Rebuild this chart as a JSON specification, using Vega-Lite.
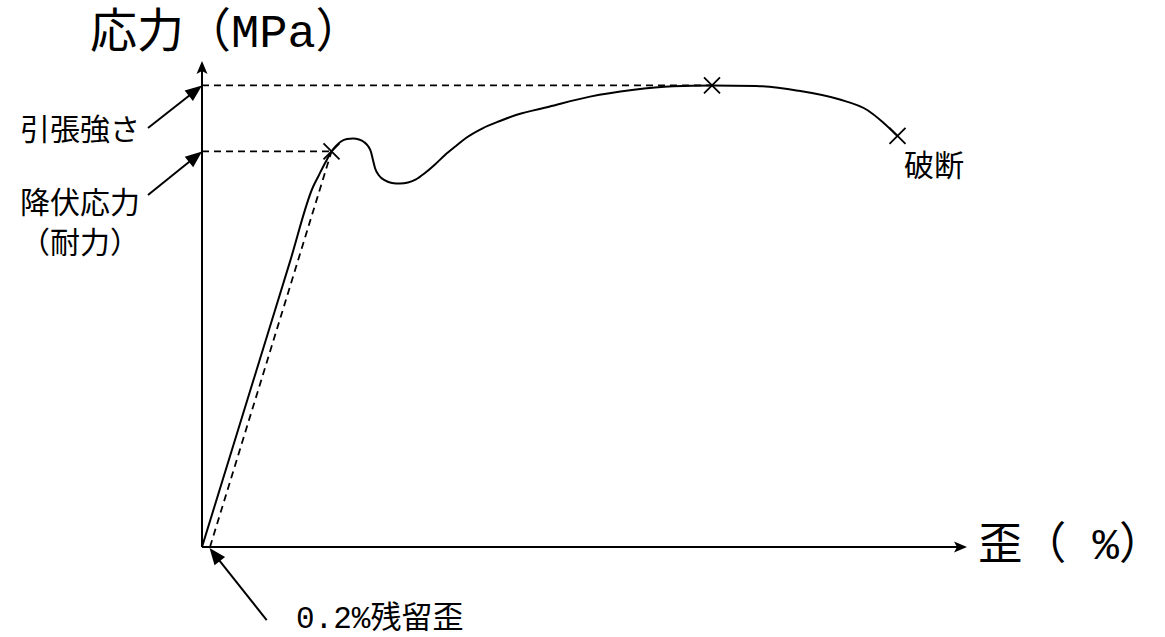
{
  "$schema": "https://vega.github.io/schema/vega-lite/v6.json",
  "width": 1165,
  "height": 637,
  "autosize": {"type": "none"},
  "padding": 0,
  "background": "white",
  "config": {"view": {"stroke": null}},
  "datasets": {
    "curve": [
      {"strain": 0, "stress": 0},
      {"strain": 1.2, "stress": 168.7},
      {"strain": 2.2, "stress": 309.2},
      {"strain": 2.775, "stress": 390.0},
      {"strain": 2.9, "stress": 400.9},
      {"strain": 3.025, "stress": 411.7},
      {"strain": 3.125, "stress": 419.8},
      {"strain": 3.2375, "stress": 428.5},
      {"strain": 3.35, "stress": 434.5},
      {"strain": 3.475, "stress": 439.3},
      {"strain": 3.625, "stress": 442.0},
      {"strain": 3.775, "stress": 442.6},
      {"strain": 3.925, "stress": 441.5},
      {"strain": 4.05, "stress": 438.8},
      {"strain": 4.15, "stress": 434.5},
      {"strain": 4.225, "stress": 428.0},
      {"strain": 4.275, "stress": 419.3},
      {"strain": 4.325, "stress": 410.6},
      {"strain": 4.425, "stress": 402.5},
      {"strain": 4.575, "stress": 397.1},
      {"strain": 4.75, "stress": 394.4},
      {"strain": 4.95, "stress": 393.8},
      {"strain": 5.15, "stress": 394.9},
      {"strain": 5.35, "stress": 398.2},
      {"strain": 5.575, "stress": 405.2},
      {"strain": 5.825, "stress": 414.4},
      {"strain": 6.075, "stress": 424.7},
      {"strain": 6.35, "stress": 434.5},
      {"strain": 6.6, "stress": 443.1},
      {"strain": 7.015, "stress": 453.6},
      {"strain": 7.45, "stress": 461.5},
      {"strain": 7.85, "stress": 468.0},
      {"strain": 8.675, "stress": 477.0},
      {"strain": 9.7, "stress": 487.9},
      {"strain": 10.75, "stress": 495.1},
      {"strain": 11.775, "stress": 499.2},
      {"strain": 12.75, "stress": 500.0},
      {"strain": 13.85, "stress": 499.5},
      {"strain": 14.9, "stress": 494.4},
      {"strain": 15.925, "stress": 485.0},
      {"strain": 16.65, "stress": 472.9},
      {"strain": 17.0, "stress": 461.0},
      {"strain": 17.3875, "stress": 445.3}
    ],
    "dashed": [
      {"strain": 0, "stress": 500, "strain2": 12.75, "stress2": 500},
      {"strain": 0, "stress": 428.5, "strain2": 3.2375, "stress2": 428.5},
      {"strain": 0.2, "stress": 0, "strain2": 3.2375, "stress2": 428.5}
    ],
    "solid": [
      {"strain": 0, "stress": 0, "strain2": 0, "stress2": 519.0},
      {"strain": 0, "stress": 0, "strain2": 18.875, "stress2": 0},
      {"strain": -1.35, "stress": 453.9, "strain2": -0.1575, "stress2": 494.6},
      {"strain": -1.35, "stress": 381.4, "strain2": -0.155, "stress2": 423.1},
      {"strain": 1.6175, "stress": -79.1, "strain2": 0.3125, "stress2": -7.9}
    ],
    "axisheads": [
      {"strain": 0, "stress": 526.5, "angle": 0},
      {"strain": 19.125, "stress": 0, "angle": 90}
    ],
    "pointers": [
      {"strain": 0, "stress": 500, "angle": 52},
      {"strain": 0, "stress": 428.5, "angle": 51},
      {"strain": 0.1875, "stress": -1.08, "angle": 322}
    ],
    "crosses": [
      {"strain": 3.2375, "stress": 428.5},
      {"strain": 12.75, "stress": 500},
      {"strain": 17.3875, "stress": 445.3}
    ],
    "ytitle": [
      {"strain": -2.8, "stress": 541.2, "label": "応力（MPa）"}
    ],
    "xtitle": [
      {"strain": 24.025, "stress": -13.0, "label": "歪（ %）"}
    ],
    "leftlabels": [
      {"strain": -3.05, "stress": 441.0, "label": "引張強さ"},
      {"strain": -3.05, "stress": 361.9, "label": "降伏応力"},
      {"strain": -3.05, "stress": 318.5, "label": "（耐力）"}
    ],
    "rightlabels": [
      {"strain": 17.55, "stress": 402.0, "label": "破断"}
    ],
    "bottomlabels": [
      {"strain": 2.35, "stress": -87.7, "label": "0.2%残留歪"}
    ]
  },
  "encoding": {
    "x": {"field": "strain", "type": "quantitative", "scale": {"domain": [-5.05, 24.075], "nice": false, "zero": false}, "axis": null},
    "y": {"field": "stress", "type": "quantitative", "scale": {"domain": [-97.5, 592.6], "nice": false, "zero": false}, "axis": null}
  },
  "layer": [
    {
      "data": {"name": "dashed"},
      "mark": {"type": "rule", "color": "black", "strokeWidth": 1.8, "strokeDash": [7, 5]},
      "encoding": {"x2": {"field": "strain2"}, "y2": {"field": "stress2"}}
    },
    {
      "data": {"name": "solid"},
      "mark": {"type": "rule", "color": "black", "strokeWidth": 2},
      "encoding": {"x2": {"field": "strain2"}, "y2": {"field": "stress2"}}
    },
    {
      "data": {"name": "curve"},
      "mark": {"type": "line", "color": "black", "strokeWidth": 2, "interpolate": "monotone"}
    },
    {
      "data": {"name": "axisheads"},
      "mark": {"type": "point", "shape": "M0,0L-0.55,1.3L0,1L0.55,1.3Z", "filled": true, "size": 400, "color": "black", "opacity": 1},
      "encoding": {"angle": {"field": "angle", "type": "quantitative", "scale": null}}
    },
    {
      "data": {"name": "pointers"},
      "mark": {"type": "point", "shape": "M0,0L-0.6,1.5L0.6,1.5Z", "filled": true, "size": 500, "color": "black", "opacity": 1},
      "encoding": {"angle": {"field": "angle", "type": "quantitative", "scale": null}}
    },
    {
      "data": {"name": "crosses"},
      "mark": {"type": "point", "shape": "M-1,-1L1,1M-1,1L1,-1", "filled": false, "size": 256, "color": "black", "strokeWidth": 1.8, "opacity": 1}
    },
    {
      "data": {"name": "ytitle"},
      "mark": {"type": "text", "align": "left", "baseline": "alphabetic", "fontSize": 47, "font": "'Liberation Mono', 'Noto Sans CJK KR'", "color": "black"},
      "encoding": {"text": {"field": "label", "type": "nominal"}}
    },
    {
      "data": {"name": "xtitle"},
      "mark": {"type": "text", "align": "right", "baseline": "alphabetic", "fontSize": 44, "font": "'Liberation Mono', 'Noto Sans CJK KR'", "color": "black"},
      "encoding": {"text": {"field": "label", "type": "nominal"}}
    },
    {
      "data": {"name": "leftlabels"},
      "mark": {"type": "text", "align": "center", "baseline": "alphabetic", "fontSize": 30, "font": "'Noto Sans CJK KR'", "color": "black"},
      "encoding": {"text": {"field": "label", "type": "nominal"}}
    },
    {
      "data": {"name": "rightlabels"},
      "mark": {"type": "text", "align": "left", "baseline": "alphabetic", "fontSize": 30, "font": "'Noto Sans CJK JP'", "color": "black"},
      "encoding": {"text": {"field": "label", "type": "nominal"}}
    },
    {
      "data": {"name": "bottomlabels"},
      "mark": {"type": "text", "align": "left", "baseline": "alphabetic", "fontSize": 31, "font": "'Liberation Mono', 'Noto Sans CJK JP'", "color": "black"},
      "encoding": {"text": {"field": "label", "type": "nominal"}}
    }
  ]
}
